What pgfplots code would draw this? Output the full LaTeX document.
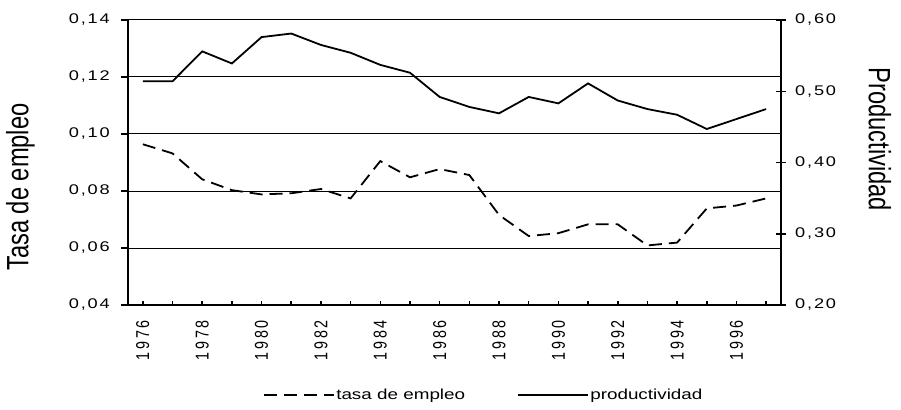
\documentclass[border=0pt]{standalone}
\usepackage{fontspec}
\setmainfont{Liberation Sans}
\newfontfamily\tickfont[LetterSpace=10]{Liberation Sans}
\newfontfamily\yearfont[LetterSpace=20]{Liberation Sans}
\usepackage{graphicx}
\usepackage{pgfplots}
\pgfplotsset{compat=1.18}
\usepackage{pgfplotstable}
\newcommand\hs[1]{\scalebox{1.3}[1]{#1}}
\newcommand\vs[1]{\scalebox{1}[1.3]{#1}}

\pgfplotstableread{
year emp prod
1976 0.0964 0.514
1977 0.0932 0.514
1978 0.0841 0.556
1979 0.0803 0.539
1980 0.0788 0.576
1981 0.0792 0.581
1982 0.0807 0.565
1983 0.0774 0.554
1984 0.0905 0.537
1985 0.0848 0.526
1986 0.0877 0.492
1987 0.0856 0.478
1988 0.0716 0.469
1989 0.0642 0.492
1990 0.0652 0.483
1991 0.0683 0.511
1992 0.0683 0.487
1993 0.0609 0.475
1994 0.0619 0.467
1995 0.0739 0.447
1996 0.0749 0.461
1997 0.0774 0.475
}\data

\pgfplotsset{
  mylegend/.style={draw=none, fill=none, inner sep=0pt, outer sep=0pt,
    font=\fontsize{14.5bp}{16bp}\selectfont,
    nodes={inner xsep=1.5bp, inner ysep=0pt}, cells={anchor=west}},
}

\begin{document}
\begin{tikzpicture}
\path[use as bounding box] (-128bp,-105bp) rectangle (773bp,305bp);
\begin{axis}[
  at={(0,0)}, anchor=south west, scale only axis,
  width=653bp, height=285bp,
  xmin=-0.5, xmax=21.5, ymin=0.04, ymax=0.14,
  axis x line*=bottom, axis y line*=left,
  axis line style={line width=1.8bp, -},
  tick style={black, line width=1.5bp},
  tick align=outside, major tick length=7bp, minor tick length=5bp,
  xtick=\empty,
  minor xtick={-0.5,0.5,...,21.5},
  extra x ticks={0,1,...,21},
  extra x tick labels={\vs{1976},,\vs{1978},,\vs{1980},,\vs{1982},,\vs{1984},,\vs{1986},,\vs{1988},,\vs{1990},,\vs{1992},,\vs{1994},,\vs{1996},},
  extra x tick style={tick align=inside, major tick length=4bp},
  xticklabel style={yshift=-15bp, rotate=90, anchor=east, inner sep=0pt,
    font=\yearfont\fontsize{14.3bp}{16bp}\selectfont},
  ytick={0.04,0.06,0.08,0.10,0.12,0.14},
  yticklabel={\hs{\pgfmathprintnumber{\tick}}},
  ymajorgrids, major grid style={black, line width=1bp},
  yticklabel style={anchor=east, inner sep=0pt, xshift=-11bp,
    font=\tickfont\fontsize{14bp}{16bp}\selectfont,
    /pgf/number format/.cd, fixed, fixed zerofill, precision=2, use comma, assume math mode=true},
  scaled y ticks=false,
  ylabel={\vs{Tasa de empleo}},
  ylabel style={at={(axis description cs:-0.1646,0.414)}, anchor=center, rotate=0,
    font=\fontsize{23.7bp}{26bp}\selectfont},
  legend style={mylegend, at={(axis description cs:0.2067,-0.3158)}, anchor=west},
  legend image code/.code={\draw[#1] (0bp,0bp) -- (70bp,0bp);},
]
\addplot[black, line width=1.8bp, dash pattern=on 13bp off 7bp] table[x expr=\coordindex, y=emp] {\data};
\addlegendentry{\hs{tasa de empleo}}
\end{axis}
\begin{axis}[
  at={(0,0)}, anchor=south west, scale only axis,
  width=653bp, height=285bp,
  xmin=-0.5, xmax=21.5, ymin=0.2, ymax=0.6,
  axis x line=none, axis y line*=right,
  axis line style={line width=1.8bp, -},
  tick style={black, line width=1.5bp},
  tick align=center, major tick length=10bp,
  ytick={0.2,0.3,0.4,0.5,0.6},
  yticklabel={\hs{\pgfmathprintnumber{\tick}}},
  yticklabel style={anchor=west, inner sep=0pt, xshift=9bp,
    font=\tickfont\fontsize{14bp}{16bp}\selectfont,
    /pgf/number format/.cd, fixed, fixed zerofill, precision=2, use comma, assume math mode=true},
  scaled y ticks=false,
  ylabel={\vs{Productividad}},
  ylabel style={at={(axis description cs:1.1516,0.582)}, anchor=center, rotate=180,
    font=\fontsize{23.7bp}{26bp}\selectfont},
  legend style={mylegend, at={(axis description cs:0.5957,-0.3158)}, anchor=west},
  legend image code/.code={\draw[#1] (0bp,0bp) -- (70bp,0bp);},
]
\addplot[black, line width=1.8bp] table[x expr=\coordindex, y=prod] {\data};
\addlegendentry{\hs{productividad}}
\end{axis}
\end{tikzpicture}
\end{document}
